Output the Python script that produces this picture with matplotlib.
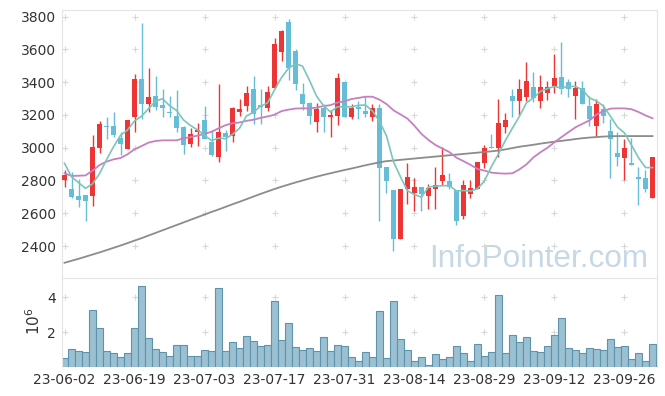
import numpy as np
import pandas as pd
import matplotlib
matplotlib.use('Agg')
import matplotlib.pyplot as plt

# tick labels (every 10th trading day)
date_labels = ['23-06-02', '23-06-19', '23-07-03', '23-07-17', '23-07-31',
               '23-08-14', '23-08-29', '23-09-12', '23-09-26']

# daily prices
opens = [2801, 2748, 2705, 2709, 2707, 3000, 3132, 3133, 3061, 2994,
         3190, 3420, 3269, 3314, 3261, 3220, 3194, 3126, 3021, 3096,
         3169, 3035, 2945, 3090, 3073, 3220, 3255, 3358, 3261, 3244,
         3367, 3586, 3768, 3593, 3328, 3273, 3159, 3244, 3190, 3196,
         3401, 3190, 3251, 3224, 3190, 3242, 2882, 2742, 2445, 2750,
         2725, 2760, 2707, 2750, 2799, 2797, 2740, 2585, 2719, 2750,
         2909, 3006, 3000, 3128, 3314, 3287, 3312, 3369, 3287, 3334,
         3379, 3432, 3401, 3318, 3367, 3255, 3135, 3234, 3100, 2966,
         2939, 2905, 2819, 2815, 2693]
highs = [2862, 2850, 2807, 2712, 3078, 3163, 3185, 3216, 3098, 3169,
         3450, 3759, 3489, 3438, 3356, 3318, 3352, 3130, 3118, 3149,
         3255, 3108, 3387, 3108, 3250, 3297, 3377, 3438, 3358, 3377,
         3668, 3719, 3784, 3600, 3393, 3281, 3271, 3265, 3230, 3456,
         3401, 3267, 3285, 3314, 3267, 3265, 2882, 2745, 2746, 2905,
         2817, 2760, 2776, 2882, 3006, 2844, 2740, 2803, 2803, 2913,
         3019, 3082, 3299, 3214, 3360, 3421, 3521, 3462, 3446, 3405,
         3570, 3643, 3421, 3405, 3407, 3314, 3295, 3265, 3175, 3098,
         3051, 3057, 2884, 2862, 2941]
lows = [2758, 2691, 2640, 2555, 2646, 2970, 3051, 3067, 2953, 2994,
        3098, 3175, 3216, 3230, 3185, 3185, 3098, 2962, 3004, 3010,
        3051, 2949, 2915, 2980, 3033, 3192, 3226, 3145, 3145, 3226,
        3367, 3531, 3411, 3352, 3230, 3143, 3094, 3098, 3067, 3141,
        3185, 3175, 3175, 3185, 3165, 2553, 2721, 2371, 2445, 2656,
        2614, 2614, 2628, 2628, 2772, 2746, 2526, 2565, 2695, 2750,
        2874, 3000, 2945, 3092, 3185, 3200, 3283, 3277, 3244, 3293,
        3332, 3328, 3312, 3175, 3269, 3135, 3074, 3153, 2813, 2890,
        2801, 2896, 2650, 2732, 2693]
closes = [2833, 2701, 2683, 2675, 3004, 3145, 3126, 3078, 3023, 3169,
          3420, 3269, 3310, 3251, 3244, 3212, 3122, 3019, 3082, 3108,
          3051, 2958, 3094, 3063, 3242, 3236, 3334, 3208, 3246, 3342,
          3633, 3712, 3489, 3387, 3269, 3196, 3238, 3190, 3200, 3426,
          3190, 3244, 3234, 3208, 3242, 2878, 2797, 2445, 2746, 2821,
          2760, 2719, 2754, 2772, 2836, 2762, 2555, 2770, 2752, 2913,
          2996, 3000, 3149, 3169, 3287, 3358, 3407, 3301, 3369, 3369,
          3424, 3356, 3356, 3362, 3269, 3175, 3267, 3196, 3051, 2941,
          2996, 2896, 2811, 2750, 2941]

# volume, millions of shares
volume = [0.51, 1.03, 0.93, 0.86, 3.26, 2.23, 0.91, 0.80, 0.57, 0.80,
          2.23, 4.63, 1.66, 1.03, 0.86, 0.63, 1.26, 1.26, 0.63, 0.63,
          0.97, 0.91, 4.51, 0.91, 1.43, 1.09, 1.77, 1.49, 1.20, 1.26,
          3.77, 1.54, 2.51, 1.14, 0.97, 1.09, 0.91, 1.71, 0.91, 1.26,
          1.20, 0.57, 0.34, 0.86, 0.57, 3.20, 0.51, 3.77, 1.60, 0.97,
          0.34, 0.57, 0.11, 0.74, 0.46, 0.57, 1.20, 0.80, 0.34, 1.31,
          0.63, 0.86, 4.11, 0.80, 1.83, 1.43, 1.71, 0.91, 0.86, 1.20,
          1.83, 2.80, 1.09, 0.97, 0.80, 1.09, 1.03, 0.97, 1.60, 1.14,
          1.20, 0.46, 0.80, 0.34, 1.31]

# moving averages: the first points need history that is not shown, so they are read off
ma5_start = [2905, 2823, 2787, 2752]
ma20_start = [2844, 2828, 2829, 2831, 2860, 2894, 2915, 2929, 2937, 2960,
              2990, 3010, 3031, 3041, 3045, 3045, 3045, 3057, 3065]
ma120 = [2298, 2310, 2322, 2335, 2348, 2361, 2375, 2389, 2403, 2418,
         2433, 2448, 2464, 2480, 2496, 2512, 2528, 2544, 2560, 2576,
         2592, 2608, 2623, 2639, 2655, 2670, 2686, 2702, 2718, 2733,
         2748, 2762, 2775, 2788, 2800, 2812, 2823, 2834, 2844, 2854,
         2864, 2873, 2883, 2893, 2902, 2911, 2918, 2922, 2926, 2930,
         2934, 2938, 2942, 2946, 2950, 2954, 2958, 2962, 2966, 2970,
         2974, 2978, 2983, 2990, 2998, 3006, 3012, 3018, 3025, 3031,
         3037, 3042, 3047, 3053, 3058, 3062, 3065, 3068, 3070, 3071,
         3071, 3071, 3071, 3071, 3071]

df = pd.DataFrame({'open': opens, 'high': highs, 'low': lows, 'close': closes, 'vol': volume})
x = np.arange(len(df))
ma5 = df['close'].rolling(5).mean().values
ma5[:4] = ma5_start
ma20 = df['close'].rolling(20).mean().values
ma20[:19] = ma20_start

up = df['close'] >= df['open']
red = '#ee3535'
blue = '#66bdd8'
colors = np.where(up, red, blue)

fig = plt.figure(figsize=(6.65, 3.96), dpi=100)
ax = fig.add_axes([0.0928, 0.298, 0.8947, 0.677])
axv = fig.add_axes([0.0928, 0.0725, 0.8947, 0.2255], sharex=ax)

# watermark
ax.text(0.985, 0.04, 'InfoPointer.com', transform=ax.transAxes, ha='right', va='baseline',
        fontsize=22.7, family='Liberation Sans', color='#c6d8e4', zorder=0)

# grid '+' marks
xticks = np.arange(0, len(df), 10)
yticks = np.arange(2400, 3801, 200)
gx, gy = np.meshgrid(xticks, yticks)
ax.plot(gx.ravel(), gy.ravel(), '+', color='#d8d8d8', ms=5, mew=0.8, zorder=1)
gx2, gy2 = np.meshgrid(xticks, [2, 4])
axv.plot(gx2.ravel(), gy2.ravel(), '+', color='#d8d8d8', ms=5, mew=0.8, zorder=0)

# candles
ax.vlines(x, df['low'], df['high'], colors=colors, lw=1, zorder=2)
body = (df['close'] - df['open']).abs().clip(lower=6)
ax.bar(x, body, bottom=np.minimum(df['open'], df['close']), width=0.7, color=colors,
       linewidth=0, zorder=3)

ax.plot(x, ma120, color='#8c8c8c', lw=1.3, zorder=4)
ax.plot(x, ma20, color='#c680c0', lw=1.3, zorder=4)
ax.plot(x, ma5, color='#7cc5bb', lw=1.2, zorder=5)

ax.set_xlim(-0.4, 84.6)
ax.set_ylim(2205, 3841)
ax.set_yticks(yticks)

# volume
axv.bar(x, df['vol'], width=1.0, color='#9bc0d1', edgecolor='#5d93ad', linewidth=0.8, zorder=2)
axv.set_ylim(0, 5.1)
axv.set_yticks([2, 4])
axv.set_xticks(xticks)
axv.set_xticklabels(date_labels)
fig.text(0.05, 0.19, r'$10^6$', rotation=90, ha='center', va='center', fontsize=11, color='#333333')

for a in (ax, axv):
    a.tick_params(length=0, labelsize=10, colors='#333333', pad=4)
    for s in a.spines.values():
        s.set_color('#e4e4e4')
ax.spines['bottom'].set_visible(False)
axv.spines['bottom'].set_visible(False)
ax.tick_params(axis='x', labelbottom=False)

fig.savefig('out.png', dpi=100)
